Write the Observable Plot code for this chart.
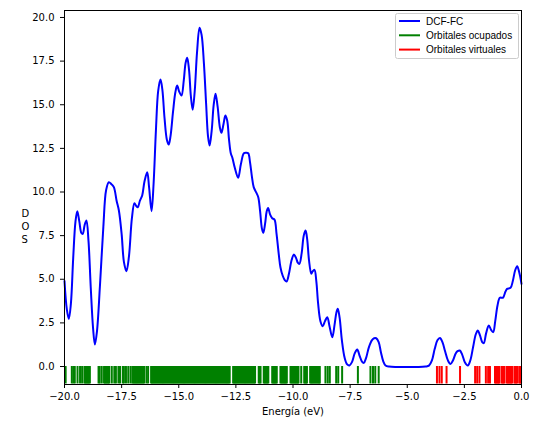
<!DOCTYPE html>
<html>
<head>
<meta charset="utf-8">
<script src="https://cdn.jsdelivr.net/npm/d3@7"></script>
<script src="https://cdn.jsdelivr.net/npm/@observablehq/plot@0.6"></script>
<style>
  html, body { margin: 0; padding: 0; background: #fff; }
</style>
</head>
<body>
<div id="chart"></div>
<script>
// DOS curve (energy in eV, DOS value)
const dosEnergy = [
  -20.00,-19.90,-19.81,-19.72,-19.62,-19.52,-19.44,-19.35,-19.26,-19.20,-19.12,-19.04,-18.95,-18.85,-18.75,-18.67,-18.58,-18.45,-18.30,-18.18,
  -18.06,-17.95,-17.84,-17.72,-17.62,-17.50,-17.40,-17.29,-17.18,-17.05,-16.94,-16.86,-16.79,-16.70,-16.60,-16.50,-16.38,-16.30,-16.19,-16.10,
  -16.00,-15.90,-15.80,-15.72,-15.62,-15.52,-15.44,-15.36,-15.25,-15.15,-15.07,-14.98,-14.88,-14.78,-14.70,-14.63,-14.55,-14.47,-14.39,-14.30,
  -14.20,-14.09,-14.00,-13.90,-13.80,-13.72,-13.65,-13.56,-13.47,-13.39,-13.30,-13.20,-13.13,-13.04,-12.96,-12.88,-12.80,-12.72,-12.66,-12.55,
  -12.40,-12.28,-12.15,-12.05,-11.96,-11.88,-11.80,-11.72,-11.60,-11.52,-11.44,-11.36,-11.30,-11.22,-11.15,-11.09,-11.00,-10.91,-10.81,-10.72,
  -10.62,-10.55,-10.45,-10.36,-10.28,-10.18,-10.06,-9.96,-9.86,-9.79,-9.72,-9.62,-9.53,-9.45,-9.38,-9.30,-9.20,-9.14,-9.06,-8.98,
  -8.90,-8.80,-8.70,-8.60,-8.50,-8.40,-8.28,-8.18,-8.10,-8.04,-7.96,-7.86,-7.74,-7.63,-7.53,-7.42,-7.30,-7.19,-7.08,-6.98,
  -6.90,-6.80,-6.68,-6.55,-6.45,-6.36,-6.25,-6.15,-6.05,-5.95,-5.80,-4.20,-4.05,-3.92,-3.80,-3.68,-3.57,-3.46,-3.35,-3.22,
  -3.11,-3.00,-2.88,-2.80,-2.70,-2.60,-2.48,-2.35,-2.24,-2.12,-2.00,-1.91,-1.82,-1.72,-1.65,-1.55,-1.43,-1.33,-1.24,-1.15,
  -1.05,-0.95,-0.86,-0.80,-0.70,-0.63,-0.48,-0.38,-0.28,-0.19,-0.10,0.00
];
const dosValue = [
  4.90,3.30,2.73,3.60,6.20,8.30,8.90,8.30,7.65,7.60,8.10,8.37,7.20,4.50,2.20,1.26,2.00,4.60,8.00,10.10,
  10.56,10.45,10.28,9.50,8.94,7.60,6.00,5.46,6.30,8.50,9.36,9.20,9.13,9.50,9.80,10.60,11.13,10.30,8.90,10.50,
  13.50,15.80,16.45,15.90,14.20,13.00,12.72,13.20,14.60,15.70,16.10,15.75,15.53,16.40,17.40,17.69,17.00,15.50,14.71,15.80,
  18.00,19.41,19.00,17.40,15.00,13.20,12.66,13.50,15.00,15.63,14.90,13.70,13.39,13.90,14.38,14.10,13.00,12.20,11.99,11.40,
  10.81,11.60,12.22,12.25,12.22,11.70,10.90,10.28,9.95,9.70,8.90,7.90,7.66,8.20,8.90,9.09,8.70,8.50,8.42,7.60,
  6.40,5.69,5.20,4.95,4.87,5.30,6.10,6.42,6.20,5.95,5.88,6.50,7.50,7.79,7.30,6.10,5.31,5.45,5.54,4.90,
  3.60,2.60,2.31,2.60,2.83,2.30,1.68,2.40,3.10,3.31,2.80,1.50,0.50,0.12,0.06,0.25,0.75,0.97,0.60,0.28,
  0.21,0.50,1.10,1.50,1.62,1.62,1.40,0.80,0.30,0.06,0.00,0.00,0.05,0.35,1.00,1.50,1.64,1.40,0.90,0.35,
  0.15,0.35,0.75,0.88,0.92,0.70,0.25,0.06,0.35,1.10,1.85,2.06,1.80,1.40,1.34,1.90,2.35,2.10,1.97,2.60,
  3.50,3.94,3.94,3.96,4.30,4.45,4.51,4.90,5.50,5.75,5.40,4.74
];

// Occupied orbital energies (eV)
const occupied = [
  -19.95,
  -19.68,-19.61,-19.55,-19.43,-19.32,-19.23,-19.13,-19.09,-19.05,-19.01,-18.97,-18.93,-18.89,
  -18.51,-18.46,-18.37,-18.27,-18.23,-18.19,-18.15,-18.11,-18.07,-18.04,-17.93,-17.82,-17.75,-17.64,-17.57,-17.45,-17.40,-17.31,-17.21,-17.11,
  -17.03,-16.99,-16.95,-16.91,-16.87,-16.83,-16.79,-16.75,-16.71,-16.67,-16.63,-16.59,-16.55,-16.51,-16.41,-16.34,
  -16.21,-16.17,-16.13,-16.09,-16.05,-16.01,-15.97,-15.93,-15.89,-15.85,-15.81,-15.77,-15.73,-15.69,-15.65,-15.61,
  -15.57,-15.53,-15.49,-15.45,-15.41,-15.37,-15.33,-15.29,-15.25,-15.21,-15.17,-15.13,-15.09,-15.05,-15.01,-14.97,
  -14.93,-14.89,-14.85,-14.81,-14.77,-14.73,-14.69,-14.65,-14.61,-14.57,-14.53,-14.49,-14.45,-14.41,-14.37,-14.33,
  -14.29,-14.25,-14.21,-14.17,-14.13,-14.09,-14.05,-14.01,-13.97,-13.93,-13.89,-13.85,-13.81,-13.77,-13.73,-13.69,
  -13.65,-13.61,-13.57,-13.53,-13.49,-13.45,-13.41,-13.37,-13.33,-13.29,-13.25,-13.21,-13.17,-13.13,-13.09,-13.05,
  -13.01,-12.97,-12.93,-12.89,-12.85,-12.81,-12.77,
  -12.62,-12.58,-12.54,-12.50,-12.46,-12.42,-12.38,-12.34,-12.30,-12.26,-12.22,-12.18,-12.14,-12.10,-12.06,-12.02,
  -11.98,-11.94,-11.90,-11.86,-11.82,-11.78,-11.74,-11.70,-11.66,
  -11.50,-11.46,-11.42,-11.28,-11.24,-11.20,-11.16,-11.12,-11.08,-10.91,-10.87,-10.83,-10.79,-10.75,-10.71,
  -10.55,-10.51,-10.47,-10.43,-10.39,-10.35,-10.31,-10.27,
  -10.11,-10.07,-10.03,-9.99,-9.95,-9.91,-9.87,-9.83,-9.79,-9.76,-9.64,-9.51,-9.47,-9.43,-9.39,
  -9.25,-9.21,-9.17,-9.13,-9.09,-9.05,-9.01,-8.97,-8.93,-8.89,-8.85,-8.83,
  -8.58,-8.48,-8.39,-8.11,-8.02,-7.85,-7.16,-6.61,-6.50,-6.40,-6.25
];

// Virtual orbital energies (eV)
const virtual = [
  -3.70,-3.59,-3.49,-3.28,-2.69,-2.03,-1.94,-1.84,-1.56,-1.46,-1.38,
  -1.16,-1.12,-1.08,-1.04,-1.00,-0.97,-0.87,-0.83,-0.79,-0.75,-0.65,-0.61,-0.57,-0.53,-0.49,-0.45,-0.41,
  -0.31,-0.27,-0.23,-0.19,-0.10,-0.06,-0.02
];

const xTicks = [-20, -17.5, -15, -12.5, -10, -7.5, -5, -2.5, 0];
const yTicks = [0, 2.5, 5, 7.5, 10, 12.5, 15, 17.5, 20];

const legendLabels = ["DCF-FC", "Orbitales ocupados", "Orbitales virtuales"];
const legendColors = ["#0000ff", "#008000", "#ff0000"];

const dos = dosEnergy.map((e, i) => ({e, v: dosValue[i]}));
const fmt = d => (d < 0 ? "\u2212" : "") + Math.abs(d).toFixed(1);

const plot = Plot.plot({
  width: 541,
  height: 423,
  marginLeft: 64,
  marginRight: 20,
  marginTop: 10,
  marginBottom: 39,
  style: {fontFamily: "DejaVu Sans", fontSize: "10px", background: "#fff", color: "#000"},
  x: {domain: [-20, 0]},
  y: {domain: [-1.03, 20.4]},
  marks: [
    Plot.line(dos, {x: "e", y: "v", stroke: legendColors[0], strokeWidth: 2, curve: "catmull-rom"}),
    Plot.ruleX(occupied, {x: d => d, y1: -1, y2: 0, stroke: legendColors[1], strokeWidth: 2, shapeRendering: "geometricPrecision"}),
    Plot.ruleX(virtual, {x: d => d, y1: -1, y2: 0, stroke: legendColors[2], strokeWidth: 2, shapeRendering: "geometricPrecision"}),
    Plot.frame({stroke: "#000", strokeWidth: 1}),
    Plot.axisX({ticks: xTicks, tickFormat: fmt, tickSize: 4, tickPadding: 4, label: null, fontSize: 10}),
    Plot.axisY({ticks: yTicks, tickFormat: fmt, tickSize: 4, tickPadding: 6, label: null, fontSize: 10}),
    Plot.text(["Energía (eV)"], {frameAnchor: "bottom", dy: 30, fontSize: 10, fill: "#000"}),
    Plot.text(["D\nO\nS"], {frameAnchor: "left", dx: -43, dy: 28, fontSize: 10, lineHeight: 1.3, lineAnchor: "middle", fill: "#000"})
  ]
});

document.getElementById("chart").appendChild(plot);

// Legend inside the plot area (upper right)
const svg = d3.select(plot);
const lg = svg.append("g").attr("transform", "translate(395,13)").attr("text-anchor", "start");
lg.append("rect").attr("x", 0.5).attr("y", 0.5).attr("width", 123).attr("height", 45)
  .attr("rx", 2).attr("fill", "#fff").attr("fill-opacity", 0.85).attr("stroke", "#cccccc").attr("stroke-width", 1);
legendLabels.forEach((lab, i) => {
  const y = 8 + i * 14.3;
  lg.append("line").attr("x1", 4).attr("x2", 25).attr("y1", y).attr("y2", y)
    .attr("stroke", legendColors[i]).attr("stroke-width", 2);
  lg.append("text").attr("x", 31).attr("y", y).attr("dy", "0.35em")
    .attr("text-anchor", "start")
    .attr("font-family", "Liberation Sans, Arial, sans-serif").attr("font-size", 10)
    .attr("fill", "#000").text(lab);
});
</script>
</body>
</html>
